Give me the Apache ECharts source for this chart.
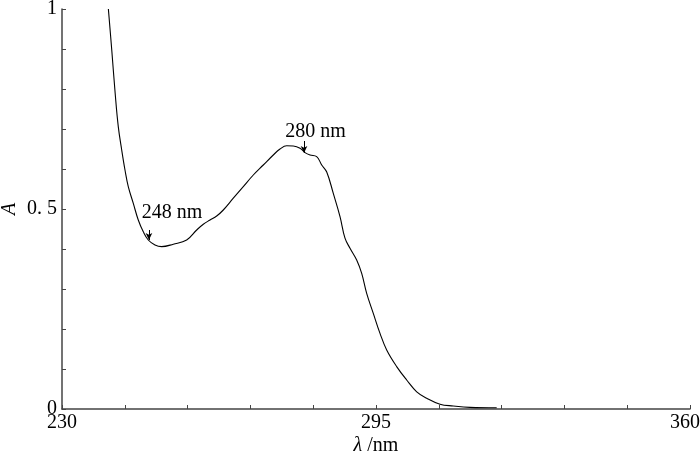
<!DOCTYPE html>
<html><head><meta charset="utf-8">
<script src="https://cdn.jsdelivr.net/npm/echarts@6/dist/echarts.min.js"></script>
<style>html,body{margin:0;padding:0;background:#fff}#c{width:700px;height:452px}</style>
</head><body><div id="c"></div>
<script>
const wavelength = [239.6, 240.3, 241.0, 241.65, 242.36, 243.04, 243.72, 244.76, 245.79, 246.83, 247.86, 249.25, 250.64, 253.04, 255.81, 257.88, 259.25, 260.64, 262.02, 263.39, 265.46, 267.53, 269.6, 271.67, 273.74, 275.13, 276.51, 277.88, 279.27, 280.3, 281.34, 282.72, 283.76, 284.8, 286.16, 287.55, 288.58, 289.62, 291.0, 292.04, 293.07, 294.44, 295.83, 297.21, 299.28, 301.35, 303.43, 305.49, 308.25, 311.0, 314.46, 319.98];
const absorbance = [1.0, 0.8975, 0.79, 0.706, 0.6475, 0.5975, 0.556, 0.514, 0.4725, 0.443, 0.4225, 0.41, 0.406, 0.412, 0.4225, 0.4475, 0.462, 0.4725, 0.4825, 0.4975, 0.527, 0.556, 0.585, 0.61, 0.635, 0.65, 0.658, 0.6575, 0.652, 0.641, 0.635, 0.631, 0.61, 0.5925, 0.539, 0.481, 0.427, 0.402, 0.3725, 0.339, 0.289, 0.239, 0.189, 0.1475, 0.106, 0.0725, 0.043, 0.027, 0.012, 0.0075, 0.004, 0.003];
const xTickLabels = [230, 295, 360];
const yTickValues = [0, 0.5, 1];
const yTickLabels = ['0', '0. 5', '1'];
const annotationText = ['248 nm', '280 nm'];
const annotationArrowX = [248.0, 280.1];
const annotationArrowTail = [0.4475, 0.67];
const annotationArrowTip = [0.4225, 0.64];
const annotationTextAt = [[246.5, 0.49], [276.2, 0.6925]];

const FONT = 'Liberation Serif';
const chart = echarts.init(document.getElementById('c'), null, {renderer: 'canvas'});
const data = wavelength.map((w, i) => [w, absorbance[i]]);

chart.setOption({
  animation: false,
  backgroundColor: '#fff',
  grid: {left: 62, right: 10, top: 9, bottom: 43, containLabel: false, outerBoundsMode: 'none'},
  xAxis: {
    type: 'value', min: 230, max: 360, interval: 13,
    axisLine: {show: true, onZero: false, lineStyle: {color: '#444', width: 1.5}},
    axisTick: {show: true, inside: true, length: 4, lineStyle: {color: '#444', width: 1}},
    splitLine: {show: false},
    axisLabel: {
      margin: 4, color: '#000', fontFamily: FONT, fontSize: 20,
      showMinLabel: true, showMaxLabel: true, alignMinLabel: 'center', alignMaxLabel: 'center',
      formatter: v => {
        if (Math.abs(v - 360) < 1e-6) return '{r|360}';
        return xTickLabels.some(t => Math.abs(t - v) < 1e-6) ? String(Math.round(v)) : '';
      },
      rich: {r: {width: 40, align: 'left', fontFamily: FONT, fontSize: 20, color: '#000'}}
    },
    name: '{i|λ} /nm', nameLocation: 'middle', nameGap: 27, nameMoveOverlap: false,
    nameTextStyle: {color: '#000', fontFamily: FONT, fontSize: 20,
      rich: {i: {fontStyle: 'italic', fontFamily: FONT, fontSize: 20, color: '#000'}}}
  },
  yAxis: {
    type: 'value', min: 0, max: 1, interval: 0.1,
    axisLine: {show: true, onZero: false, lineStyle: {color: '#444', width: 1.5}},
    axisTick: {show: true, inside: true, length: 4, lineStyle: {color: '#444', width: 1}},
    splitLine: {show: false},
    axisLabel: {
      margin: 5, color: '#000', fontFamily: FONT, fontSize: 20,
      formatter: v => {
        const i = yTickValues.findIndex(t => Math.abs(t - v) < 1e-6);
        return i >= 0 ? yTickLabels[i] : '';
      }
    },
    name: 'A', nameLocation: 'middle', nameGap: 42, nameRotate: 90, nameMoveOverlap: false,
    nameTextStyle: {color: '#000', fontFamily: FONT, fontSize: 20, fontStyle: 'italic'}
  },
  series: [{
    type: 'line', data: data, smooth: 0.4, showSymbol: false, clip: false,
    lineStyle: {color: '#000', width: 1.1},
    markLine: {
      silent: true, symbol: ['none', 'arrow'], symbolSize: [5, 7],
      lineStyle: {color: '#000', width: 1, type: 'solid'},
      label: {show: false},
      data: annotationArrowX.map((x, i) => [
        {coord: [x, annotationArrowTail[i]]},
        {coord: [x, annotationArrowTip[i]]}
      ])
    },
    markPoint: {
      silent: true, symbol: 'circle', symbolSize: 0,
      data: annotationText.map((t, i) => ({
        coord: annotationTextAt[i],
        label: {show: true, formatter: t, position: 'right', distance: 0,
          color: '#000', fontFamily: FONT, fontSize: 20}
      }))
    }
  }]
});
</script></body></html>
